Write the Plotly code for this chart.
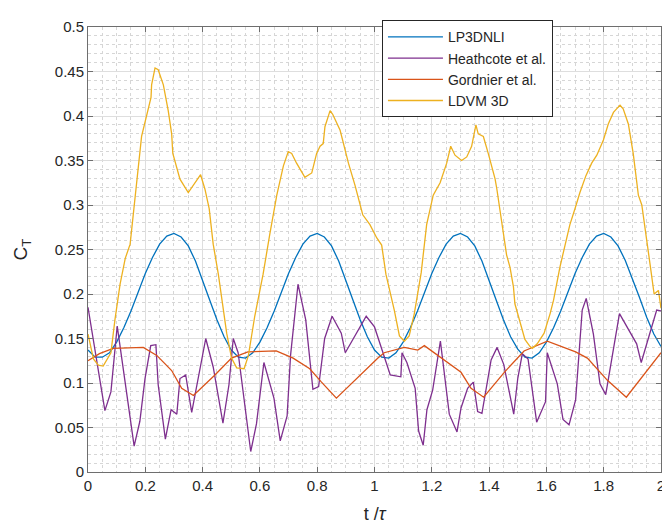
import numpy as np
import plotly.graph_objects as go

# LP3DNLI, sampled every 0.025 t/tau
lp_t = np.round(np.arange(0, 2.0001, 0.025), 3)
lp_ct = [
    0.137, 0.129, 0.129, 0.134, 0.146, 0.162, 0.181, 0.202, 0.223, 0.241,
    0.256, 0.265, 0.268, 0.264, 0.254, 0.237, 0.216, 0.193, 0.171, 0.152,
    0.137, 0.129, 0.128, 0.134, 0.146, 0.162, 0.181, 0.202, 0.223, 0.241,
    0.256, 0.265, 0.268, 0.264, 0.254, 0.237, 0.216, 0.193, 0.171, 0.152,
    0.137, 0.129, 0.128, 0.134, 0.146, 0.162, 0.181, 0.202, 0.223, 0.241,
    0.256, 0.265, 0.268, 0.264, 0.254, 0.237, 0.216, 0.193, 0.171, 0.152,
    0.138, 0.129, 0.128, 0.134, 0.146, 0.162, 0.181, 0.202, 0.223, 0.241,
    0.256, 0.265, 0.268, 0.264, 0.254, 0.238, 0.218, 0.196, 0.174, 0.155,
    0.141,
]

heath_t = [
    0.0, 0.059, 0.080, 0.102, 0.161, 0.181, 0.199, 0.219, 0.237, 0.245,
    0.270, 0.290, 0.310, 0.321, 0.341, 0.362, 0.411, 0.437, 0.471, 0.492,
    0.507, 0.524, 0.568, 0.588, 0.614, 0.649, 0.671, 0.695, 0.707, 0.733,
    0.760, 0.785, 0.805, 0.826, 0.852, 0.884, 0.898, 0.971, 1.000, 1.055,
    1.092, 1.096, 1.113, 1.142, 1.154, 1.170, 1.183, 1.203, 1.230, 1.261,
    1.288, 1.302, 1.325, 1.345, 1.360, 1.375, 1.407, 1.428, 1.451, 1.486,
    1.500, 1.516, 1.536, 1.566, 1.597, 1.603, 1.638, 1.658, 1.679, 1.702,
    1.725, 1.739, 1.764, 1.787, 1.807, 1.855, 1.915, 1.931, 1.985, 2.0,
]
heath_ct = [
    0.185, 0.069, 0.090, 0.164, 0.029, 0.057, 0.105, 0.142, 0.143, 0.098,
    0.037, 0.070, 0.065, 0.105, 0.109, 0.067, 0.150, 0.118, 0.055, 0.098,
    0.150, 0.134, 0.023, 0.054, 0.123, 0.083, 0.035, 0.063, 0.131, 0.211,
    0.171, 0.093, 0.096, 0.150, 0.175, 0.156, 0.134, 0.175, 0.163, 0.109,
    0.107, 0.134, 0.123, 0.094, 0.046, 0.030, 0.070, 0.092, 0.147, 0.065,
    0.045, 0.072, 0.094, 0.101, 0.068, 0.066, 0.126, 0.140, 0.121, 0.065,
    0.105, 0.133, 0.127, 0.056, 0.079, 0.134, 0.099, 0.059, 0.053, 0.081,
    0.182, 0.195, 0.155, 0.099, 0.087, 0.178, 0.144, 0.123, 0.182, 0.181,
]

gord_t = [
    0.0, 0.040, 0.088, 0.193, 0.240, 0.292, 0.327, 0.368, 0.443, 0.501,
    0.558, 0.657, 0.716, 0.774, 0.815, 0.867, 1.012, 1.034, 1.104, 1.151,
    1.174, 1.238, 1.302, 1.337, 1.381, 1.453, 1.522, 1.603, 1.702, 1.743,
    1.813, 1.879, 2.0,
]
gord_ct = [
    0.125, 0.133, 0.139, 0.140, 0.131, 0.114, 0.094, 0.086, 0.109, 0.128,
    0.135, 0.136, 0.128, 0.116, 0.101, 0.083, 0.128, 0.134, 0.140, 0.137,
    0.142, 0.127, 0.112, 0.094, 0.084, 0.112, 0.136, 0.147, 0.135, 0.128,
    0.103, 0.084, 0.134,
]

ldvm_t = [
    0.0, 0.019, 0.036, 0.053, 0.080, 0.094, 0.112, 0.130, 0.147, 0.161,
    0.187, 0.220, 0.222, 0.234, 0.245, 0.263, 0.280, 0.292, 0.296, 0.321,
    0.350, 0.393, 0.408, 0.423, 0.437, 0.455, 0.484, 0.501, 0.519, 0.545,
    0.560, 0.582, 0.611, 0.635, 0.659, 0.682, 0.699, 0.711, 0.728, 0.757,
    0.781, 0.798, 0.810, 0.821, 0.827, 0.845, 0.854, 0.880, 0.894, 0.909,
    0.932, 0.949, 0.959, 0.984, 1.008, 1.025, 1.040, 1.069, 1.087, 1.104,
    1.121, 1.139, 1.163, 1.182, 1.205, 1.229, 1.252, 1.266, 1.281, 1.304,
    1.322, 1.339, 1.354, 1.362, 1.380, 1.397, 1.421, 1.427, 1.444, 1.461,
    1.473, 1.485, 1.490, 1.508, 1.525, 1.543, 1.551, 1.568, 1.592, 1.613,
    1.625, 1.647, 1.665, 1.682, 1.700, 1.717, 1.738, 1.758, 1.776, 1.799,
    1.816, 1.834, 1.845, 1.857, 1.868, 1.886, 1.903, 1.921, 1.933, 1.950,
    1.962, 1.976, 1.991, 2.0,
]
ldvm_ct = [
    0.155, 0.127, 0.120, 0.119, 0.134, 0.171, 0.211, 0.240, 0.256, 0.300,
    0.377, 0.421, 0.435, 0.454, 0.452, 0.435, 0.406, 0.380, 0.358, 0.329,
    0.314, 0.334, 0.318, 0.296, 0.256, 0.222, 0.156, 0.128, 0.117, 0.116,
    0.131, 0.175, 0.222, 0.268, 0.311, 0.344, 0.360, 0.358, 0.347, 0.331,
    0.336, 0.358, 0.366, 0.369, 0.388, 0.406, 0.402, 0.384, 0.366, 0.347,
    0.322, 0.303, 0.289, 0.278, 0.263, 0.255, 0.222, 0.182, 0.153, 0.147,
    0.153, 0.178, 0.224, 0.278, 0.311, 0.325, 0.347, 0.366, 0.356, 0.350,
    0.354, 0.366, 0.390, 0.380, 0.377, 0.358, 0.329, 0.318, 0.278, 0.244,
    0.230, 0.208, 0.189, 0.167, 0.149, 0.141, 0.139, 0.144, 0.156, 0.178,
    0.193, 0.230, 0.256, 0.278, 0.296, 0.314, 0.333, 0.347, 0.356, 0.373,
    0.391, 0.404, 0.408, 0.412, 0.408, 0.391, 0.358, 0.311, 0.300, 0.263,
    0.233, 0.200, 0.204, 0.184,
]

x_ticks = [0, 0.2, 0.4, 0.6, 0.8, 1, 1.2, 1.4, 1.6, 1.8, 2]
x_labels = ["0", "0.2", "0.4", "0.6", "0.8", "1", "1.2", "1.4", "1.6", "1.8", "2"]
y_ticks = [0, 0.05, 0.1, 0.15, 0.2, 0.25, 0.3, 0.35, 0.4, 0.45, 0.5]
y_labels = ["0", "0.05", "0.1", "0.15", "0.2", "0.25", "0.3", "0.35", "0.4", "0.45", "0.5"]

series = [
    ("LP3DNLI", lp_t, lp_ct, "#0072BD"),
    ("Heathcote et al.", heath_t, heath_ct, "#7E2F8E"),
    ("Gordnier et al.", gord_t, gord_ct, "#D95319"),
    ("LDVM 3D", ldvm_t, ldvm_ct, "#EDB120"),
]

fig = go.Figure()
for name, t, ct, color in series:
    fig.add_trace(go.Scatter(x=t, y=ct, mode="lines", name=name,
                             line=dict(color=color, width=1.3)))

axis_common = dict(
    showline=True, linecolor="#6e6e6e", linewidth=1, mirror="ticks",
    ticks="inside", ticklen=5, tickcolor="#6e6e6e",
    showgrid=True, gridcolor="#dedede", gridwidth=1, zeroline=False,
    tickfont=dict(family="Liberation Sans, Arial", size=15, color="#262626"),
)

# the page body adds an 8px offset, so margins are shifted to compensate
fig.update_layout(
    width=670, height=530,
    margin=dict(l=80, r=17, t=10, b=66),
    paper_bgcolor="white", plot_bgcolor="white",
    font=dict(family="Liberation Sans, Arial", color="#262626"),
    legend=dict(
        x=0.513, y=1.015, xanchor="left", yanchor="top",
        bgcolor="white", bordercolor="#262626", borderwidth=1,
        font=dict(size=14, color="#262626"), itemwidth=55,
        tracegroupgap=0,
    ),
    xaxis=dict(
        range=[0, 2], tickvals=x_ticks, ticktext=x_labels,
        minor=dict(dtick=0.05, showgrid=True, gridcolor="#d6d6d6", griddash="dot"),
        title=dict(text="t /<i>τ</i>", font=dict(size=18), standoff=14),
        **axis_common,
    ),
    yaxis=dict(
        range=[0, 0.5], tickvals=y_ticks, ticktext=y_labels,
        minor=dict(dtick=0.01, showgrid=True, gridcolor="#d6d6d6", griddash="dot"),
        title=dict(text="C<sub>T</sub>", font=dict(size=19), standoff=22),
        **axis_common,
    ),
)

fig.write_html("out.html")
